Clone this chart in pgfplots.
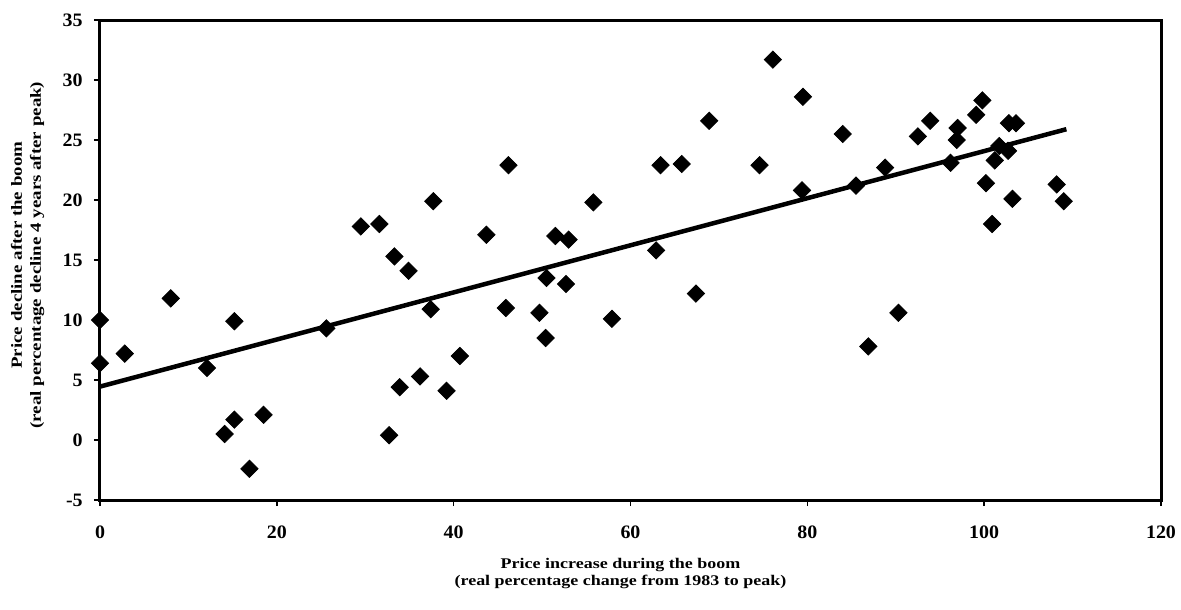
\documentclass[border=0pt]{standalone}
\usepackage{fontspec}
\setmainfont{Liberation Serif}
\newfontfamily\lblfont{Liberation Serif}[FakeStretch=1.22]
\newfontfamily\tickfont{Liberation Serif}[FakeStretch=1.05]
\usepackage{pgfplots}
\pgfplotsset{compat=1.18}
\begin{document}
\begin{tikzpicture}
\begin{axis}[
  at={(0,0)}, anchor=south west,
  scale only axis, width=424.4pt, height=192pt,
  xmin=0, xmax=120, ymin=-5, ymax=35,
  xtick={0,20,...,120}, ytick={-5,0,...,35},
  axis line style={line width=1.2pt},
  tick align=outside, major tick length=2.4pt,
  tick style={line width=0.6pt, black},
  xtick pos=lower, ytick pos=left,
  /pgf/number format/assume math mode=true,
  ticklabel style={font=\tickfont\bfseries\fontsize{7.6}{8}\selectfont},
  xticklabel style={yshift=-4.5pt},
  yticklabel style={xshift=-1pt},
  xlabel={Price increase during the boom\\(real percentage change from 1983 to peak)},
  xlabel style={at={(axis description cs:0.4906,-0.153)}, anchor=center, align=center,
    font=\lblfont\bfseries\fontsize{5.9}{6.8}\selectfont},
  ylabel={Price decline after the boom\\(real percentage decline 4 years after peak)},
  ylabel style={at={(axis description cs:-0.0683,0.51)}, anchor=center, align=center,
    font=\lblfont\bfseries\fontsize{6.2}{7.6}\selectfont},
  clip=false,
]
\addplot[only marks, mark=square*, mark size=2.45pt,
  mark options={rotate=45, fill=black, draw=black, line width=0.3pt}]
  coordinates {
  (0,10.0) (0,6.4) (2.8,7.2) (8.0,11.8) (12.1,6.0) (14.1,0.5) (15.2,1.7)
  (15.2,9.9) (16.9,-2.4) (18.5,2.1) (25.6,9.3) (29.5,17.8) (31.6,18.0)
  (32.7,0.4) (33.3,15.3) (33.9,4.4) (34.9,14.1) (36.2,5.3) (37.4,10.9)
  (37.7,19.9) (39.2,4.1) (40.7,7.0) (43.7,17.1) (45.9,11.0) (46.2,22.9)
  (49.7,10.6) (50.4,8.5) (50.5,13.5) (51.5,17.0) (52.7,13.0) (53.0,16.7)
  (55.8,19.8) (57.9,10.1) (62.9,15.8) (63.4,22.9) (65.8,23.0) (67.4,12.2)
  (68.9,26.6) (74.6,22.9) (76.1,31.7) (79.4,20.8) (79.5,28.6) (84.0,25.5)
  (85.5,21.2) (86.9,7.8) (88.8,22.7) (90.3,10.6) (92.5,25.3) (93.9,26.6)
  (96.2,23.1) (96.9,25.0) (97.0,26.0) (99.1,27.1) (99.8,28.3) (100.2,21.4)
  (100.9,18.0) (101.2,23.3) (101.7,24.5) (102.7,24.1) (102.8,26.4)
  (103.2,20.1) (103.6,26.4) (108.2,21.3) (109.0,19.9)
  };
\addplot[black, line width=1.8pt, no markers] coordinates {(0,4.45) (109.3,25.9)};
\end{axis}
\pgfresetboundingbox
\path[use as bounding box] (-40pt,-44pt) rectangle (432.4pt,200pt);
\end{tikzpicture}
\end{document}
